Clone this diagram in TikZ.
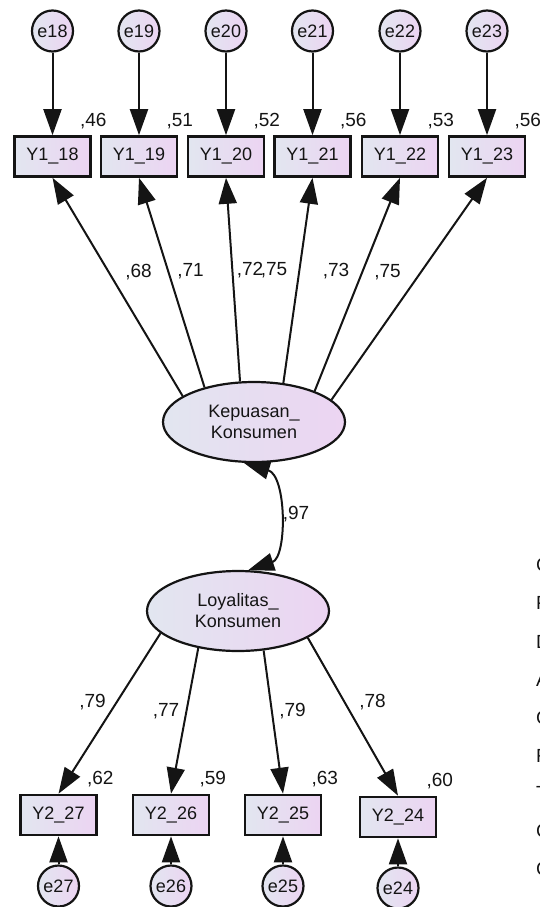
\documentclass[tikz,border=0pt]{standalone}
\usepackage{fontspec}
\setmainfont{Liberation Sans}
\usetikzlibrary{arrows.meta,calc,shapes.geometric}
\definecolor{fillL}{RGB}{226,230,240}
\definecolor{fillR}{RGB}{236,212,242}
\definecolor{ink}{RGB}{20,20,20}
\begin{document}
\begin{tikzpicture}[x=1pt,y=1pt,
  every node/.style={font=\fontsize{18}{21}\selectfont, text=ink},
  obs/.style={draw=ink, line width=2.6pt, minimum width=76pt, minimum height=40pt, inner sep=0pt, left color=fillL, right color=fillR},
  err/.style={circle, draw=ink, line width=2.2pt, minimum size=41pt, inner sep=0pt, left color=fillL, right color=fillR},
  lat/.style={ellipse, draw=ink, line width=2.2pt, minimum width=182pt, minimum height=80pt, inner sep=0pt, align=center, left color=fillL, right color=fillR},
  pth/.style={draw=ink, line width=2pt, -{Triangle[length=26pt,width=18pt]}},
  cov/.style={draw=ink, line width=2pt, {Triangle[length=26pt,width=18pt]}-{Triangle[length=26pt,width=18pt]}},
  lbl/.style={inner sep=0pt, anchor=base west, font=\fontsize{19}{21}\selectfont},
  num/.style={inner sep=0pt, font=\fontsize{19}{21}\selectfont},
  frag/.style={inner sep=0pt, anchor=west, font=\fontsize{19}{21}\selectfont},
]
\useasboundingbox (0,0) rectangle (539,-907);

% top error circles and boxes
\foreach \n/\x in {18/52.5,19/139,20/226,21/312.5,22/400,23/487}{
  \node[err] (e\n) at (\x,-31) {e\n};
  \node[obs] (y1\n) at (\x,-156.5) {Y1\_\n};
}
\foreach \n in {18,19,20,21,22,23}{
  \draw[pth] (e\n) -- (y1\n);
}
\node[lbl] at ($(y118.north east)+(-12,9)$) {,46};
\node[lbl] at ($(y119.north east)+(-12,9)$) {,51};
\node[lbl] at ($(y120.north east)+(-12,9)$) {,52};
\node[lbl] at ($(y121.north east)+(-12,9)$) {,56};
\node[lbl] at ($(y122.north east)+(-12,9)$) {,53};
\node[lbl] at ($(y123.north east)+(-12,9)$) {,56};

% latent variables
\node[lat] (kep) at (254,-422) {Kepuasan\_\\Konsumen};
\node[lat] (loy) at (238,-611) {Loyalitas\_\\Konsumen};

\draw[pth] (kep.160.6) -- (y118.south);
\draw[pth] (kep.145.5) -- (y119.south);
\draw[pth] (kep.109.5) -- (y120.south);
\draw[pth] (kep.53.6) -- (y121.south);
\draw[pth] (kep.27.3) -- (y122.south);
\draw[pth] (kep.16.1) -- (y123.south);

\node[num] at (138.5,-272) {,68};
\node[num] at (190.5,-271) {,71};
\node[num] at (250,-270) {,72};
\node[num] at (274,-270) {,75};
\node[num] at (336,-271) {,73};
\node[num] at (387.5,-272) {,75};

% covariance
\draw[cov] (kep.256) .. controls ($(kep.256)+(43,-13)$) and ($(loy.76)+(39,13)$) .. (loy.76);
\node[num] at (296,-514) {,97};

% bottom boxes and errors
\foreach \n/\x/\yb/\ye in {27/58.5/815/886,26/171/815/886,25/283/815/886,24/398/817/888}{
  \node[obs] (y2\n) at (\x,-\yb) {Y2\_\n};
  \node[err] (e\n) at (\x,-\ye) {e\n};
}
\foreach \n in {27,26,25,24}{
  \draw[pth] (e\n) -- (y2\n);
}
\draw[pth] (loy.196.8) -- (y227.north);
\draw[pth] (loy.223.7) -- (y226.north);
\draw[pth] (loy.303) -- (y225.north);
\draw[pth] (loy.339.9) -- (y224.north);

\node[num] at (92.5,-702) {,79};
\node[num] at (166,-711) {,77};
\node[num] at (292.5,-711) {,79};
\node[num] at (372.5,-702) {,78};

\node[lbl] at ($(y227.north east)+(-11,9)$) {,62};
\node[lbl] at ($(y226.north east)+(-11,9)$) {,59};
\node[lbl] at ($(y225.north east)+(-11,9)$) {,63};
\node[lbl] at ($(y224.north east)+(-11,9)$) {,60};

% fit text, cut off at the right edge as in the source
\foreach \t [count=\i from 0] in {Chi-Square,Probability,DF,AGFI,GFI,RMSEA,TLI,CFI,CMIN/DF}{
  \node[frag] (fit\i) at (536,-567-37.7*\i) {\t};
}
\end{tikzpicture}
\end{document}
